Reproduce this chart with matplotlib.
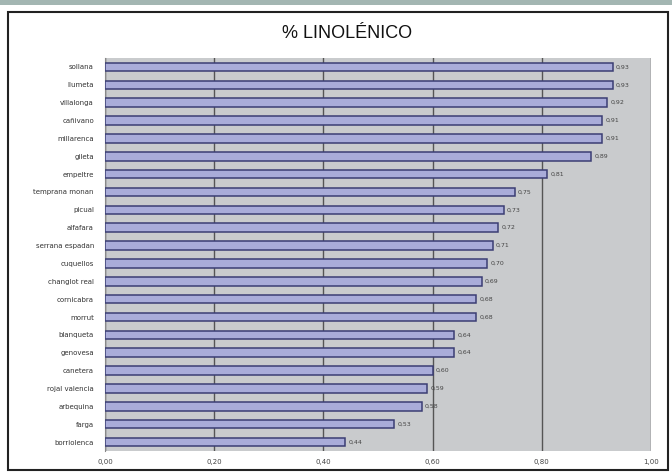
import matplotlib.pyplot as plt
from matplotlib.patches import Rectangle

variedades = ['sollana', 'llumeta', 'villalonga', 'cañivano', 'millarenca', 'gileta',
              'empeltre', 'temprana monan', 'picual', 'alfafara', 'serrana espadan',
              'cuquellos', 'changlot real', 'cornicabra', 'morrut', 'blanqueta',
              'genovesa', 'canetera', 'rojal valencia', 'arbequina', 'farga',
              'borriolenca']
valores = [0.93, 0.93, 0.92, 0.91, 0.91, 0.89, 0.81, 0.75, 0.73, 0.72, 0.71,
           0.70, 0.69, 0.68, 0.68, 0.64, 0.64, 0.60, 0.59, 0.58, 0.53, 0.44]
xticks = [0.0, 0.2, 0.4, 0.6, 0.8, 1.0]

fig = plt.figure(figsize=(6.72, 4.75), dpi=100)

# franja superior y marco
fig.patches.append(Rectangle((0, 1 - 5 / 475), 1, 5 / 475, transform=fig.transFigure,
                             facecolor='#a3b6b2', edgecolor='none', zorder=-2))
fig.patches.append(Rectangle((8 / 672, 1 - 470 / 475), 660 / 672, 458 / 475,
                             transform=fig.transFigure, facecolor='white',
                             edgecolor='#222222', linewidth=1.5, zorder=-2))

fig.text(0.516, 1 - 33 / 475, '% LINOLÉNICO', ha='center', va='center',
         fontsize=13, family='Liberation Sans', color='#111111')

ax = fig.add_axes([105 / 672, 1 - 451 / 475, 546 / 672, 393 / 475])
ax.set_facecolor('#c9cbcd')

y = list(range(len(variedades)))
ax.barh(y, valores, height=0.48, color='#a9acd9', edgecolor='#3b3e74', linewidth=1.1,
        zorder=3)
for yi, v in zip(y, valores):
    ax.text(v + 0.006, yi, f'{v:.2f}'.replace('.', ','), va='center', ha='left',
            fontsize=4.5, color='#444444', zorder=4)

ax.set_xlim(0, 1)
ax.set_ylim(len(variedades) - 0.5, -0.5)
ax.set_yticks(y)
ax.set_yticklabels(variedades, fontsize=5, color='#333333')
ax.set_xticks(xticks)
ax.set_xticklabels([f'{t:.2f}'.replace('.', ',') for t in xticks], fontsize=5,
                   color='#444444')
ax.tick_params(length=0, pad=6)
ax.tick_params(axis='y', pad=8)
ax.xaxis.grid(True, color='#555555', linewidth=1.0, zorder=1)
ax.set_axisbelow(True)
for s in ax.spines.values():
    s.set_visible(False)
ax.spines['left'].set_visible(True)
ax.spines['left'].set_color('#888888')

fig.savefig('out.png', dpi=100)
